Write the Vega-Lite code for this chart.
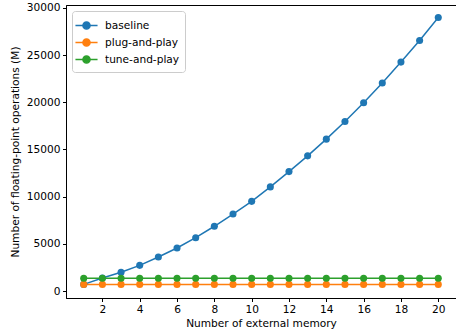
{
  "$schema": "https://vega.github.io/schema/vega-lite/v6.json",
  "autosize": "none",
  "width": 390,
  "height": 293,
  "padding": {"left": 66, "top": 5, "right": 0, "bottom": 32},
  "background": "white",
  "config": {
    "font": "DejaVu Sans",
    "view": {"stroke": "#000", "strokeWidth": 1},
    "axis": {
      "grid": false,
      "domainColor": "#000",
      "tickColor": "#000",
      "tickSize": 3.5,
      "labelFontSize": 10.6,
      "labelColor": "#000",
      "titleFontSize": 10.6,
      "titleFontWeight": "normal",
      "titleColor": "#000",
      "labelFont": "DejaVu Sans",
      "titleFont": "DejaVu Sans"
    }
  },
  "data": {
    "values": [
      {"n": 1, "series": "baseline", "flops": 700},
      {"n": 2, "series": "baseline", "flops": 1380},
      {"n": 3, "series": "baseline", "flops": 1980},
      {"n": 4, "series": "baseline", "flops": 2720},
      {"n": 5, "series": "baseline", "flops": 3600},
      {"n": 6, "series": "baseline", "flops": 4560},
      {"n": 7, "series": "baseline", "flops": 5650},
      {"n": 8, "series": "baseline", "flops": 6860},
      {"n": 9, "series": "baseline", "flops": 8150},
      {"n": 10, "series": "baseline", "flops": 9500},
      {"n": 11, "series": "baseline", "flops": 11030},
      {"n": 12, "series": "baseline", "flops": 12650},
      {"n": 13, "series": "baseline", "flops": 14320},
      {"n": 14, "series": "baseline", "flops": 16090},
      {"n": 15, "series": "baseline", "flops": 17950},
      {"n": 16, "series": "baseline", "flops": 19940},
      {"n": 17, "series": "baseline", "flops": 22030},
      {"n": 18, "series": "baseline", "flops": 24250},
      {"n": 19, "series": "baseline", "flops": 26540},
      {"n": 20, "series": "baseline", "flops": 28980},
      {"n": 1, "series": "plug-and-play", "flops": 700},
      {"n": 2, "series": "plug-and-play", "flops": 700},
      {"n": 3, "series": "plug-and-play", "flops": 700},
      {"n": 4, "series": "plug-and-play", "flops": 700},
      {"n": 5, "series": "plug-and-play", "flops": 700},
      {"n": 6, "series": "plug-and-play", "flops": 700},
      {"n": 7, "series": "plug-and-play", "flops": 700},
      {"n": 8, "series": "plug-and-play", "flops": 700},
      {"n": 9, "series": "plug-and-play", "flops": 700},
      {"n": 10, "series": "plug-and-play", "flops": 700},
      {"n": 11, "series": "plug-and-play", "flops": 700},
      {"n": 12, "series": "plug-and-play", "flops": 700},
      {"n": 13, "series": "plug-and-play", "flops": 700},
      {"n": 14, "series": "plug-and-play", "flops": 700},
      {"n": 15, "series": "plug-and-play", "flops": 700},
      {"n": 16, "series": "plug-and-play", "flops": 700},
      {"n": 17, "series": "plug-and-play", "flops": 700},
      {"n": 18, "series": "plug-and-play", "flops": 700},
      {"n": 19, "series": "plug-and-play", "flops": 700},
      {"n": 20, "series": "plug-and-play", "flops": 700},
      {"n": 1, "series": "tune-and-play", "flops": 1350},
      {"n": 2, "series": "tune-and-play", "flops": 1350},
      {"n": 3, "series": "tune-and-play", "flops": 1350},
      {"n": 4, "series": "tune-and-play", "flops": 1350},
      {"n": 5, "series": "tune-and-play", "flops": 1350},
      {"n": 6, "series": "tune-and-play", "flops": 1350},
      {"n": 7, "series": "tune-and-play", "flops": 1350},
      {"n": 8, "series": "tune-and-play", "flops": 1350},
      {"n": 9, "series": "tune-and-play", "flops": 1350},
      {"n": 10, "series": "tune-and-play", "flops": 1350},
      {"n": 11, "series": "tune-and-play", "flops": 1350},
      {"n": 12, "series": "tune-and-play", "flops": 1350},
      {"n": 13, "series": "tune-and-play", "flops": 1350},
      {"n": 14, "series": "tune-and-play", "flops": 1350},
      {"n": 15, "series": "tune-and-play", "flops": 1350},
      {"n": 16, "series": "tune-and-play", "flops": 1350},
      {"n": 17, "series": "tune-and-play", "flops": 1350},
      {"n": 18, "series": "tune-and-play", "flops": 1350},
      {"n": 19, "series": "tune-and-play", "flops": 1350},
      {"n": 20, "series": "tune-and-play", "flops": 1350}
    ]
  },
  "encoding": {
    "x": {
      "field": "n",
      "type": "quantitative",
      "scale": {"domain": [0.05, 20.95], "nice": false, "zero": false},
      "axis": {
        "title": "Number of external memory",
        "values": [2, 4, 6, 8, 10, 12, 14, 16, 18, 20],
        "labelFlush": false,
        "labelPadding": 3,
        "titlePadding": 3
      }
    },
    "y": {
      "field": "flops",
      "type": "quantitative",
      "scale": {"domain": [-740, 30300], "nice": false, "zero": false},
      "axis": {
        "title": "Number of floating-point operations (M)",
        "values": [0, 5000, 10000, 15000, 20000, 25000, 30000],
        "format": "d",
        "labelFlush": false,
        "labelPadding": 2.5,
        "titlePadding": 6
      }
    },
    "color": {
      "field": "series",
      "type": "nominal",
      "scale": {
        "domain": ["baseline", "plug-and-play", "tune-and-play"],
        "range": ["#1f77b4", "#ff7f0e", "#2ca02c"]
      },
      "legend": {
        "title": null,
        "orient": "top-left",
        "offset": 5.5,
        "symbolType": "M-1.3,0H1.3M-0.42,0A0.42,0.42 0 1,0 0.42,0A0.42,0.42 0 1,0 -0.42,0",
        "symbolSize": 289,
        "symbolStrokeWidth": 1.5,
        "symbolOpacity": 1,
        "labelFontSize": 10.6,
        "labelColor": "#000",
        "labelFont": "DejaVu Sans",
        "labelOffset": 9,
        "rowPadding": 0,
        "strokeColor": "#cccccc",
        "fillColor": "rgba(255,255,255,0.8)",
        "cornerRadius": 3,
        "padding": 5
      }
    }
  },
  "layer": [
    {"mark": {"type": "line", "strokeWidth": 1.5}},
    {"mark": {"type": "point", "shape": "circle", "filled": true, "size": 50, "opacity": 1}}
  ]
}
